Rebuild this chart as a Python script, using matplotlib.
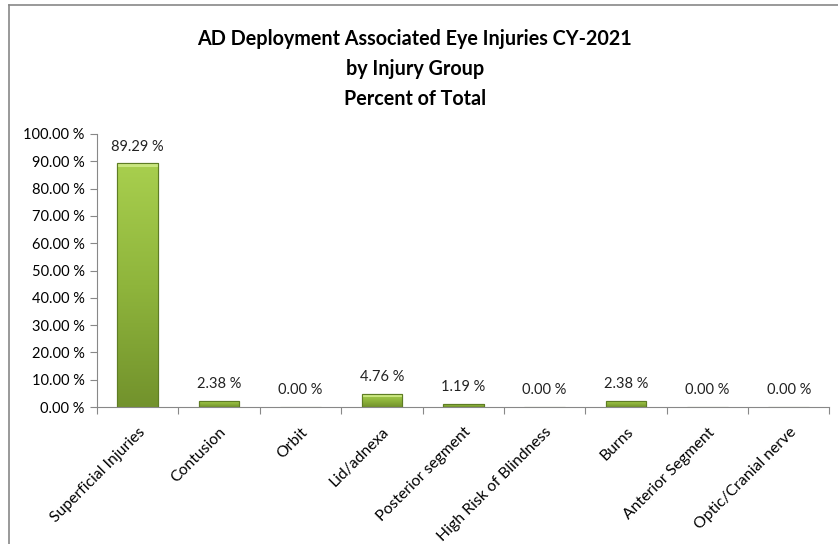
import matplotlib.pyplot as plt
import numpy as np
from matplotlib.colors import LinearSegmentedColormap
from matplotlib.lines import Line2D

plt.rcParams['font.family'] = ['Lato', 'DejaVu Sans']

groups = ['Superficial Injuries', 'Contusion', 'Orbit', 'Lid/adnexa',
          'Posterior segment', 'High Risk of Blindness', 'Burns',
          'Anterior Segment', 'Optic/Cranial nerve']
pct = [89.29, 2.38, 0.00, 4.76, 1.19, 0.00, 2.38, 0.00, 0.00]

fig = plt.figure(figsize=(8.38, 5.44), dpi=100)
ax = fig.add_axes([0.1158, 0.2518, 0.874, 0.5019])

x = np.arange(len(groups))
vals = np.array(pct) / 100.0
bars = ax.bar(x, vals, width=0.5, color='#8fb53c', edgecolor='#5e7d24', linewidth=0.8, zorder=2)

# vertical green gradient inside each bar
cmap = LinearSegmentedColormap.from_list('g', ['#72922c', '#8fb53c', '#a8cf4e'])
grad = np.linspace(0, 1, 256).reshape(-1, 1)
for b in bars:
    h = b.get_height()
    if h <= 0:
        continue
    x0, w = b.get_x(), b.get_width()
    im = ax.imshow(grad, cmap=cmap, origin='lower', aspect='auto',
                   extent=[x0, x0 + w, 0, h], zorder=2.5)
    im.set_clip_path(b)
    # light bevel along the top edge
    bev = min(0.012, h * 0.3)
    ax.fill_between([x0, x0 + w], h - bev, h, color='#c9e67f', zorder=3, lw=0)
    ax.add_patch(plt.Rectangle((x0, 0), w, h, fill=False, ec='#5e7d24', lw=0.8, zorder=3.5))

for xi, v in zip(x, pct):
    ax.annotate(f'{v:.2f} %', (xi, v / 100.0), xytext=(0, 7), textcoords='offset points',
                ha='center', va='bottom', fontsize=10.5, color='#222222')

ax.set_xlim(-0.5, len(groups) - 0.5)
ax.set_ylim(0, 1.0)
ax.set_yticks(np.arange(0, 1.01, 0.1))
ax.set_yticklabels([f'{t * 100:.2f} %' for t in np.arange(0, 1.01, 0.1)], fontsize=10.5)

ax.set_xticks(np.arange(-0.5, len(groups), 1.0))
ax.set_xticklabels([])
ax.set_xticks(x, minor=True)
ax.set_xticklabels(groups, minor=True, rotation=45, ha='right', rotation_mode='anchor', fontsize=11.3)
ax.tick_params(axis='x', which='minor', length=0, pad=13)
ax.tick_params(axis='x', which='major', length=5, color='#888888')
ax.tick_params(axis='y', length=5, color='#888888', pad=4)

for s in ['top', 'right']:
    ax.spines[s].set_visible(False)
for s in ['left', 'bottom']:
    ax.spines[s].set_color('#888888')

fig.text(0.495, 0.873, 'AD Deployment Associated Eye Injuries CY-2021\nby Injury Group\nPercent of Total',
         ha='center', va='center', fontsize=14.2, fontweight='bold', linespacing=1.6)

# chart frame
fig.add_artist(Line2D([9 / 838, 9 / 838], [0, 1 - 5 / 544], transform=fig.transFigure, color='#888888', lw=1.2))
fig.add_artist(Line2D([9 / 838, 1], [1 - 5 / 544, 1 - 5 / 544], transform=fig.transFigure, color='#888888', lw=1.2))

fig.savefig('out.png', dpi=100)
